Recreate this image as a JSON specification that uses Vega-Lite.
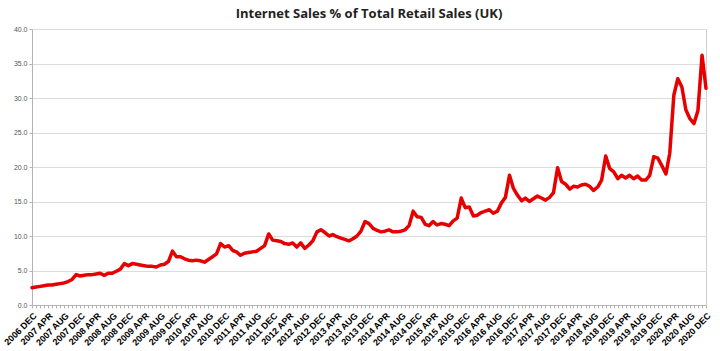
{
  "$schema": "https://vega.github.io/schema/vega-lite/v6.json",
  "width": 674,
  "height": 276,
  "autosize": {"type": "none"},
  "padding": {"left": 32, "top": 29, "right": 14, "bottom": 46},
  "background": "white",
  "title": {
    "text": "Internet Sales % of Total Retail Sales (UK)",
    "font": "Open Sans",
    "fontSize": 13,
    "fontWeight": "bold",
    "color": "#222222",
    "anchor": "middle",
    "offset": 4
  },
  "config": {
    "view": {"stroke": "#d0d0d0", "strokeWidth": 1}
  },
  "data": {
    "values": [
      {"month": "2006-12-01", "pct": 2.5},
      {"month": "2007-01-01", "pct": 2.6},
      {"month": "2007-02-01", "pct": 2.7},
      {"month": "2007-03-01", "pct": 2.8},
      {"month": "2007-04-01", "pct": 2.9},
      {"month": "2007-05-01", "pct": 2.9},
      {"month": "2007-06-01", "pct": 3.0},
      {"month": "2007-07-01", "pct": 3.1},
      {"month": "2007-08-01", "pct": 3.2},
      {"month": "2007-09-01", "pct": 3.4},
      {"month": "2007-10-01", "pct": 3.7},
      {"month": "2007-11-01", "pct": 4.4},
      {"month": "2007-12-01", "pct": 4.2},
      {"month": "2008-01-01", "pct": 4.3},
      {"month": "2008-02-01", "pct": 4.4},
      {"month": "2008-03-01", "pct": 4.4},
      {"month": "2008-04-01", "pct": 4.5},
      {"month": "2008-05-01", "pct": 4.6},
      {"month": "2008-06-01", "pct": 4.3},
      {"month": "2008-07-01", "pct": 4.6},
      {"month": "2008-08-01", "pct": 4.6},
      {"month": "2008-09-01", "pct": 4.9},
      {"month": "2008-10-01", "pct": 5.2},
      {"month": "2008-11-01", "pct": 6.0},
      {"month": "2008-12-01", "pct": 5.7},
      {"month": "2009-01-01", "pct": 6.0},
      {"month": "2009-02-01", "pct": 5.9},
      {"month": "2009-03-01", "pct": 5.8},
      {"month": "2009-04-01", "pct": 5.7},
      {"month": "2009-05-01", "pct": 5.6},
      {"month": "2009-06-01", "pct": 5.6},
      {"month": "2009-07-01", "pct": 5.5},
      {"month": "2009-08-01", "pct": 5.8},
      {"month": "2009-09-01", "pct": 5.9},
      {"month": "2009-10-01", "pct": 6.3},
      {"month": "2009-11-01", "pct": 7.8},
      {"month": "2009-12-01", "pct": 7.0},
      {"month": "2010-01-01", "pct": 7.0},
      {"month": "2010-02-01", "pct": 6.7},
      {"month": "2010-03-01", "pct": 6.5},
      {"month": "2010-04-01", "pct": 6.4},
      {"month": "2010-05-01", "pct": 6.5},
      {"month": "2010-06-01", "pct": 6.4},
      {"month": "2010-07-01", "pct": 6.2},
      {"month": "2010-08-01", "pct": 6.6},
      {"month": "2010-09-01", "pct": 7.0},
      {"month": "2010-10-01", "pct": 7.4},
      {"month": "2010-11-01", "pct": 8.9},
      {"month": "2010-12-01", "pct": 8.4},
      {"month": "2011-01-01", "pct": 8.6},
      {"month": "2011-02-01", "pct": 7.9},
      {"month": "2011-03-01", "pct": 7.7},
      {"month": "2011-04-01", "pct": 7.2},
      {"month": "2011-05-01", "pct": 7.5},
      {"month": "2011-06-01", "pct": 7.6},
      {"month": "2011-07-01", "pct": 7.7},
      {"month": "2011-08-01", "pct": 7.8},
      {"month": "2011-09-01", "pct": 8.2},
      {"month": "2011-10-01", "pct": 8.6},
      {"month": "2011-11-01", "pct": 10.3},
      {"month": "2011-12-01", "pct": 9.4},
      {"month": "2012-01-01", "pct": 9.3},
      {"month": "2012-02-01", "pct": 9.2},
      {"month": "2012-03-01", "pct": 8.9},
      {"month": "2012-04-01", "pct": 8.8},
      {"month": "2012-05-01", "pct": 9.0},
      {"month": "2012-06-01", "pct": 8.4},
      {"month": "2012-07-01", "pct": 9.0},
      {"month": "2012-08-01", "pct": 8.2},
      {"month": "2012-09-01", "pct": 8.7},
      {"month": "2012-10-01", "pct": 9.3},
      {"month": "2012-11-01", "pct": 10.6},
      {"month": "2012-12-01", "pct": 10.9},
      {"month": "2013-01-01", "pct": 10.5},
      {"month": "2013-02-01", "pct": 10.0},
      {"month": "2013-03-01", "pct": 10.2},
      {"month": "2013-04-01", "pct": 9.9},
      {"month": "2013-05-01", "pct": 9.7},
      {"month": "2013-06-01", "pct": 9.5},
      {"month": "2013-07-01", "pct": 9.3},
      {"month": "2013-08-01", "pct": 9.6},
      {"month": "2013-09-01", "pct": 10.0},
      {"month": "2013-10-01", "pct": 10.7},
      {"month": "2013-11-01", "pct": 12.1},
      {"month": "2013-12-01", "pct": 11.8},
      {"month": "2014-01-01", "pct": 11.1},
      {"month": "2014-02-01", "pct": 10.8},
      {"month": "2014-03-01", "pct": 10.6},
      {"month": "2014-04-01", "pct": 10.7},
      {"month": "2014-05-01", "pct": 10.9},
      {"month": "2014-06-01", "pct": 10.6},
      {"month": "2014-07-01", "pct": 10.6},
      {"month": "2014-08-01", "pct": 10.7},
      {"month": "2014-09-01", "pct": 10.9},
      {"month": "2014-10-01", "pct": 11.5},
      {"month": "2014-11-01", "pct": 13.6},
      {"month": "2014-12-01", "pct": 12.8},
      {"month": "2015-01-01", "pct": 12.7},
      {"month": "2015-02-01", "pct": 11.7},
      {"month": "2015-03-01", "pct": 11.5},
      {"month": "2015-04-01", "pct": 12.1},
      {"month": "2015-05-01", "pct": 11.6},
      {"month": "2015-06-01", "pct": 11.8},
      {"month": "2015-07-01", "pct": 11.7},
      {"month": "2015-08-01", "pct": 11.5},
      {"month": "2015-09-01", "pct": 12.2},
      {"month": "2015-10-01", "pct": 12.6},
      {"month": "2015-11-01", "pct": 15.5},
      {"month": "2015-12-01", "pct": 14.1},
      {"month": "2016-01-01", "pct": 14.2},
      {"month": "2016-02-01", "pct": 12.9},
      {"month": "2016-03-01", "pct": 13.0},
      {"month": "2016-04-01", "pct": 13.4},
      {"month": "2016-05-01", "pct": 13.6},
      {"month": "2016-06-01", "pct": 13.8},
      {"month": "2016-07-01", "pct": 13.3},
      {"month": "2016-08-01", "pct": 13.6},
      {"month": "2016-09-01", "pct": 14.8},
      {"month": "2016-10-01", "pct": 15.6},
      {"month": "2016-11-01", "pct": 18.8},
      {"month": "2016-12-01", "pct": 16.9},
      {"month": "2017-01-01", "pct": 15.9},
      {"month": "2017-02-01", "pct": 15.1},
      {"month": "2017-03-01", "pct": 15.5},
      {"month": "2017-04-01", "pct": 15.0},
      {"month": "2017-05-01", "pct": 15.4},
      {"month": "2017-06-01", "pct": 15.8},
      {"month": "2017-07-01", "pct": 15.5},
      {"month": "2017-08-01", "pct": 15.2},
      {"month": "2017-09-01", "pct": 15.6},
      {"month": "2017-10-01", "pct": 16.3},
      {"month": "2017-11-01", "pct": 19.9},
      {"month": "2017-12-01", "pct": 17.9},
      {"month": "2018-01-01", "pct": 17.5},
      {"month": "2018-02-01", "pct": 16.8},
      {"month": "2018-03-01", "pct": 17.2},
      {"month": "2018-04-01", "pct": 17.1},
      {"month": "2018-05-01", "pct": 17.4},
      {"month": "2018-06-01", "pct": 17.5},
      {"month": "2018-07-01", "pct": 17.2},
      {"month": "2018-08-01", "pct": 16.6},
      {"month": "2018-09-01", "pct": 17.1},
      {"month": "2018-10-01", "pct": 18.1},
      {"month": "2018-11-01", "pct": 21.6},
      {"month": "2018-12-01", "pct": 19.8},
      {"month": "2019-01-01", "pct": 19.3},
      {"month": "2019-02-01", "pct": 18.3},
      {"month": "2019-03-01", "pct": 18.8},
      {"month": "2019-04-01", "pct": 18.4},
      {"month": "2019-05-01", "pct": 18.8},
      {"month": "2019-06-01", "pct": 18.3},
      {"month": "2019-07-01", "pct": 18.7},
      {"month": "2019-08-01", "pct": 18.1},
      {"month": "2019-09-01", "pct": 18.1},
      {"month": "2019-10-01", "pct": 18.8},
      {"month": "2019-11-01", "pct": 21.5},
      {"month": "2019-12-01", "pct": 21.3},
      {"month": "2020-01-01", "pct": 20.2},
      {"month": "2020-02-01", "pct": 19.0},
      {"month": "2020-03-01", "pct": 22.0},
      {"month": "2020-04-01", "pct": 30.4},
      {"month": "2020-05-01", "pct": 32.8},
      {"month": "2020-06-01", "pct": 31.6},
      {"month": "2020-07-01", "pct": 28.3},
      {"month": "2020-08-01", "pct": 27.0},
      {"month": "2020-09-01", "pct": 26.3},
      {"month": "2020-10-01", "pct": 28.2},
      {"month": "2020-11-01", "pct": 36.2},
      {"month": "2020-12-01", "pct": 31.4}
    ]
  },
  "mark": {"type": "line", "color": "#e60000", "strokeWidth": 3.5, "strokeJoin": "round", "strokeCap": "round", "clip": false},
  "encoding": {
    "x": {
      "field": "month",
      "type": "temporal",
      "scale": {"type": "utc", "nice": false},
      "axis": {
        "title": null,
        "grid": false,
        "tickCount": {"interval": "month", "step": 1},
        "labelExpr": "(utcmonth(datum.value) % 4 == 3) ? upper(utcFormat(datum.value, '%Y %b')) : ''",
        "labelOverlap": false,
        "labelAngle": -45,
        "labelAlign": "right",
        "labelBaseline": "top",
        "labelPadding": 3,
        "labelFont": "Liberation Sans",
        "labelFontSize": 9,
        "labelFontWeight": "bold",
        "labelColor": "#000000",
        "tickSize": 3,
        "tickColor": "#b3b3b3",
        "domainColor": "#b3b3b3"
      }
    },
    "y": {
      "field": "pct",
      "type": "quantitative",
      "scale": {"domain": [0, 40], "nice": false, "zero": true},
      "axis": {
        "title": null,
        "values": [0, 5, 10, 15, 20, 25, 30, 35, 40],
        "format": ".1f",
        "labelFont": "Liberation Sans",
        "labelFontSize": 7,
        "labelColor": "#555555",
        "labelPadding": 2,
        "tickSize": 3,
        "tickColor": "#b3b3b3",
        "domainColor": "#b3b3b3",
        "gridColor": "#dcdcdc",
        "gridWidth": 1
      }
    }
  }
}
